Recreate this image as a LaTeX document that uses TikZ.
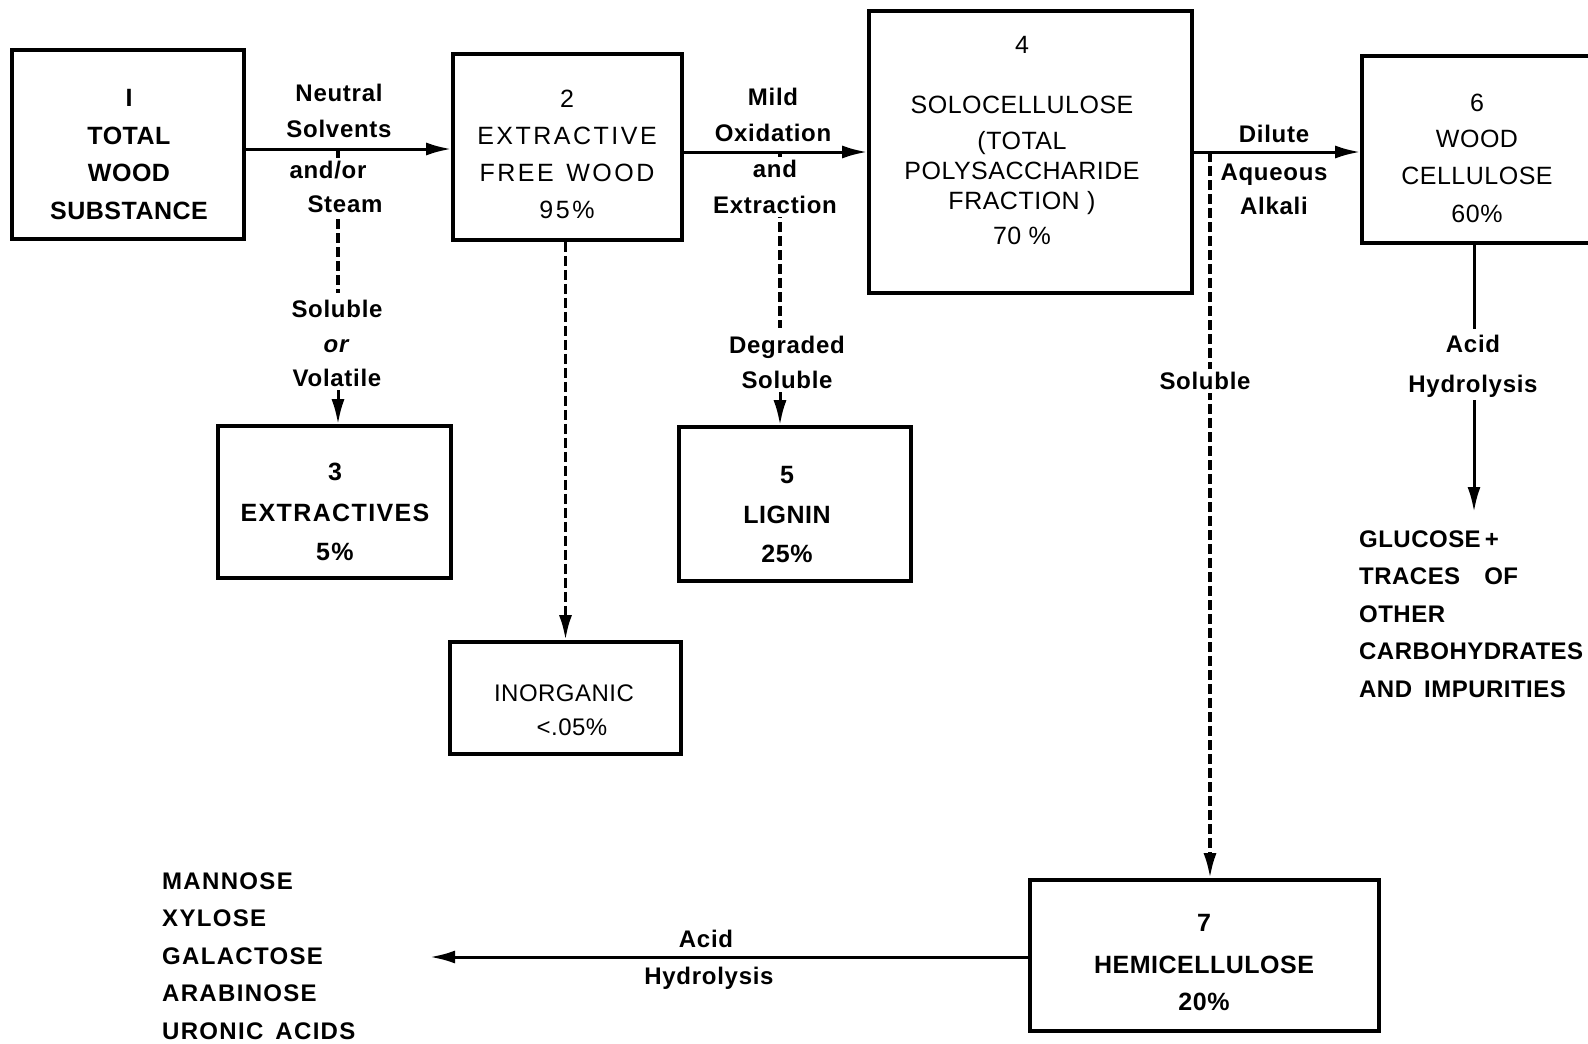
\documentclass[tikz,border=0pt]{standalone}
\usepackage{fontspec}
\setmainfont{Liberation Sans}
\newfontfamily\lsA[LetterSpace=2]{Liberation Sans}
\newfontfamily\lsB[LetterSpace=10]{Liberation Sans}
\newfontfamily\lsC[LetterSpace=2]{Liberation Sans}
\newfontfamily\lsD[LetterSpace=3]{Liberation Sans}
\newfontfamily\lsE[LetterSpace=5.5]{Liberation Sans}
\usetikzlibrary{arrows.meta}
\tikzset{
  box/.style={draw, line width=3.6pt, inner sep=0pt},
  arr/.style={line width=3pt, -{Latex[length=25pt,width=13pt]}},
  ln/.style={line width=3pt},
  dsh/.style={line width=3.4pt, dash pattern=on 10pt off 4pt},
  tb/.style={inner sep=0pt, align=center, font=\lsA\bfseries\fontsize{25}{37.5}\selectfont},
  tbe/.style={inner sep=0pt, align=center, font=\lsE\bfseries\fontsize{25}{37.5}\selectfont},
  tr/.style={inner sep=0pt, align=center, font=\lsA\fontsize{25}{37.5}\selectfont},
  trw/.style={inner sep=0pt, align=center, font=\lsB\fontsize{25}{37}\selectfont},
  tc/.style={inner sep=0pt, align=center, font=\lsC\fontsize{24}{37.5}\selectfont},
  lab/.style={inner sep=0pt, align=center, font=\lsD\bfseries\fontsize{24}{35}\selectfont},
  wlab/.style={lab, fill=white, inner sep=3pt},
  lst/.style={inner sep=0pt, align=left, anchor=west, font=\lsC\bfseries\fontsize{24}{37.5}\selectfont},
  lstb/.style={inner sep=0pt, align=left, anchor=west, font=\lsE\bfseries\fontsize{24}{37.5}\selectfont},
}
\begin{document}
\begin{tikzpicture}[x=1pt,y=-1pt]
\useasboundingbox (0,0) rectangle (1588,1044);
\fill[white] (0,0) rectangle (1588,1044);

% boxes
\node[box, minimum width=232pt, minimum height=189pt] (b1) at (128,144.5) {};
\node[box, minimum width=229pt, minimum height=186pt] (b2) at (567.5,147) {};
\node[box, minimum width=323pt, minimum height=282pt] (b4) at (1030.5,152) {};
\node[box, minimum width=230pt, minimum height=187pt] (b6) at (1477,149.5) {};
\node[box, minimum width=233pt, minimum height=152pt] (b3) at (334.5,502) {};
\node[box, minimum width=232pt, minimum height=154pt] (b5) at (795,504) {};
\node[box, minimum width=231pt, minimum height=112pt] (b8) at (565.5,698) {};
\node[box, minimum width=349pt, minimum height=151pt] (b7) at (1204.5,955.5) {};

% box texts
\node[tb] (t1) at (129,154.5) {I\\TOTAL\\WOOD\\SUBSTANCE};
\node[trw] (t2) at (567,154.5) {2\\EXTRACTIVE\\FREE\enspace WOOD\\95\%};
\node[tr] (t4) at (1022,140.5) {4\\[22pt]SOLOCELLULOSE\\[-1.5pt](TOTAL\hspace*{32pt}\\[-7.5pt]POLYSACCHARIDE\\[-7.5pt]FRACTION )\\[-2.5pt]70 \%};
\node[tr] (t6) at (1477,158.5) {6\\[-1pt]WOOD\\[-1pt]CELLULOSE\\[1pt]60\%};
\node[tbe] (t3) at (335,512) {3\\[3pt]EXTRACTIVES\\[1.5pt]5\%};
\node[tb] (t5) at (787,514.5) {5\\[2.5pt]LIGNIN\\[1.5pt]25\%};
\node[tc] (t8) at (564,710) {INORGANIC\\[-3.5pt]\hspace*{16pt}<.05\%};
\node[tb] (t7) at (1204,962.5) {7\\[4.5pt]HEMICELLULOSE\\[-0.5pt]20\%};

% labels that do not cover lines
\node[lab] (l12) at (339,111) {Neutral\\[1pt]Solvents};
\node[lab] (l24) at (773,115) {Mild\\[1pt]Oxidation};
\node[lab] (l46) at (1274,134) {Dilute};
\node[lab] (l46b) at (1274,189) {Aqueous\\[-1pt]Alkali};
\node[lab] (l3) at (337,343.5) {Soluble\\[-0.5pt]\textit{or}\\[-0.5pt]Volatile};
\node[lab] (l5) at (787,362.5) {Degraded\\Soluble};
\node[lab] (l6) at (1473,366) {Acid\\[5pt]Hydrolysis};
\node[lab] (l7a) at (706,939) {Acid};
\node[lab] (l7b) at (709,978) {Hydrolysis};

% end lists
\node[lst] (gl) at (1359,614) {GLUCOSE\,+\\TRACES\quad OF\\OTHER\\CARBOHYDRATES\\AND\enspace IMPURITIES};
\node[lstb] (ml) at (162,956) {MANNOSE\\XYLOSE\\GALACTOSE\\ARABINOSE\\URONIC\enspace ACIDS};

% coordinates
\coordinate (r12) at (0,149);
\coordinate (r24) at (0,152);
\coordinate (d3) at (338,149);
\coordinate (d5) at (780,152);
\coordinate (d7) at (1210,152);
\coordinate (g6) at (1474,512);
\coordinate (h7) at (430,957);

% connectors
\draw[arr] (b1.east |- r12) -- (b2.west |- r12);
\draw[arr] (b2.east |- r24) -- (b4.west |- r24);
\draw[arr] (b4.east |- r24) -- (b6.west |- r24);
\draw[dsh, shorten >=7pt] (d3) -- (l3.north -| d3);
\draw[arr, shorten <=3pt] (l3.south -| d3) -- (b3.north -| d3);
\draw[dsh, shorten >=8pt] (d5) -- (l5.north -| d5);
\draw[arr, shorten <=3pt] (l5.south -| d5) -- (b5.north -| d5);
\draw[arr, dsh] (b8.north |- b2.south) -- (b8.north);
\draw[arr, dsh] (d7) -- (d7 |- b7.north);
\draw[ln, shorten >=6pt] (g6 |- b6.south) -- (g6 |- l6.north);
\draw[arr, shorten <=3pt] (g6 |- l6.south) -- (g6);
\draw[arr] (b7.west |- h7) -- (h7);

% labels that interrupt lines
\node[wlab] (l12c) at (328,187) {and/or\\[-1pt]\hspace*{34pt}Steam};
\node[wlab] (l24b) at (775,187) {and\\[1pt]Extraction};
\node[wlab] (l47) at (1205,381) {Soluble};
\end{tikzpicture}
\end{document}
